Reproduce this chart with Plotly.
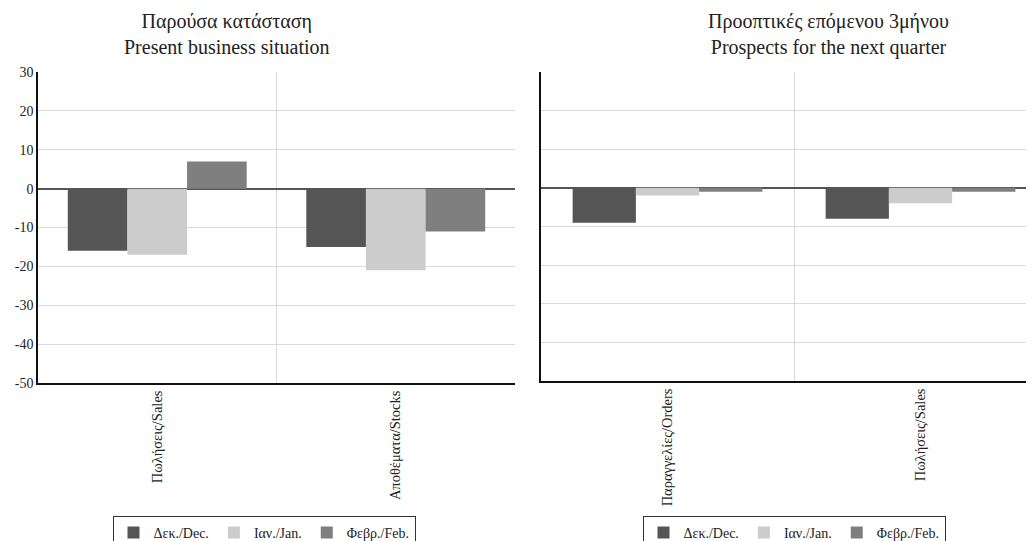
import plotly.graph_objects as go

series_names = ["Δεκ./Dec.", "Ιαν./Jan.", "Φεβρ./Feb."]
series_colors = ["#555555", "#cccccc", "#7f7f7f"]

present_categories = ["Πωλήσεις/Sales", "Αποθέματα/Stocks"]
present_dec = [-16, -15]
present_jan = [-17, -21]
present_feb = [7, -11]

prospect_categories = ["Παραγγελίες/Orders", "Πωλήσεις/Sales"]
prospect_dec = [-9, -8]
prospect_jan = [-2, -4]
prospect_feb = [-1, -1]

y_ticks = [30, 20, 10, 0, -10, -20, -30, -40, -50]
y_tick_labels = ["30", "20", "10", "0", "-10", "-20", "-30", "-40", "-50"]

FONT = "Liberation Serif"
TXT = "#222222"
GRID = "#d9d9d9"

W, H = 1034, 541
OFF = 8  # page body margin offset

def px_x(v):
    return (v - OFF) / W

def px_y(v):
    return (H - (v - OFF)) / H

fig = go.Figure()

present_vals = [present_dec, present_jan, present_feb]
prospect_vals = [prospect_dec, prospect_jan, prospect_feb]

for name, color, vals in zip(series_names, series_colors, present_vals):
    fig.add_trace(go.Bar(x=present_categories, y=vals, name=name,
                         marker=dict(color=color, line=dict(width=0)),
                         xaxis="x", yaxis="y", legend="legend"))
for name, color, vals in zip(series_names, series_colors, prospect_vals):
    fig.add_trace(go.Bar(x=prospect_categories, y=vals, name=name,
                         marker=dict(color=color, line=dict(width=0)),
                         xaxis="x2", yaxis="y2", legend="legend2"))

xcommon = dict(type="category", tickson="boundaries", showgrid=True, gridcolor=GRID,
               gridwidth=1, showline=True, linecolor="#111111", linewidth=1.5,
               ticks="", tickangle=-90, tickfont=dict(family=FONT, size=14.5, color=TXT),
               zeroline=False, automargin=False)
ycommon = dict(range=[-50, 30], tickvals=y_ticks, ticktext=y_tick_labels, showgrid=True,
               gridcolor=GRID, gridwidth=1, showline=True, linecolor="#111111", linewidth=1.5,
               ticks="", zeroline=True, zerolinecolor="#555555", zerolinewidth=1.5,
               tickfont=dict(family=FONT, size=14, color=TXT), automargin=False)

legend_common = dict(orientation="h", xanchor="center", y=px_y(516), yanchor="top",
                     bordercolor="#333333", borderwidth=1, bgcolor="white",
                     font=dict(family=FONT, size=14, color=TXT), itemwidth=30,
                     traceorder="normal", tracegroupgap=0)

fig.update_layout(
    width=W, height=H,
    margin=dict(l=0, r=0, t=0, b=0, autoexpand=False),
    paper_bgcolor="white", plot_bgcolor="white",
    barmode="group", bargap=0.25, bargroupgap=0,
    font=dict(family=FONT, color=TXT),
    xaxis=dict(domain=[px_x(38), px_x(515)], range=[-0.5, 1.5], anchor="y", **xcommon),
    yaxis=dict(domain=[px_y(383), px_y(72)], anchor="x", showticklabels=True, **ycommon),
    xaxis2=dict(domain=[px_x(541), 1.0], range=[-0.5, 1.5 - 5 / 253], anchor="y2", **xcommon),
    yaxis2=dict(domain=[px_y(381), px_y(72)], anchor="x2", showticklabels=False, **ycommon),
    legend=dict(x=px_x(264), **legend_common),
    legend2=dict(x=px_x(794), **legend_common),
    annotations=[
        dict(text="Παρούσα κατάσταση<br>Present business situation", x=px_x(227), y=px_y(8),
             xref="paper", yref="paper", xanchor="center", yanchor="top", showarrow=False,
             font=dict(family=FONT, size=20, color=TXT)),
        dict(text="Προοπτικές επόμενου 3μήνου<br>Prospects for the next quarter", x=px_x(828), y=px_y(8),
             xref="paper", yref="paper", xanchor="center", yanchor="top", showarrow=False,
             font=dict(family=FONT, size=20, color=TXT)),
    ],
)

fig.write_html("out.html")
